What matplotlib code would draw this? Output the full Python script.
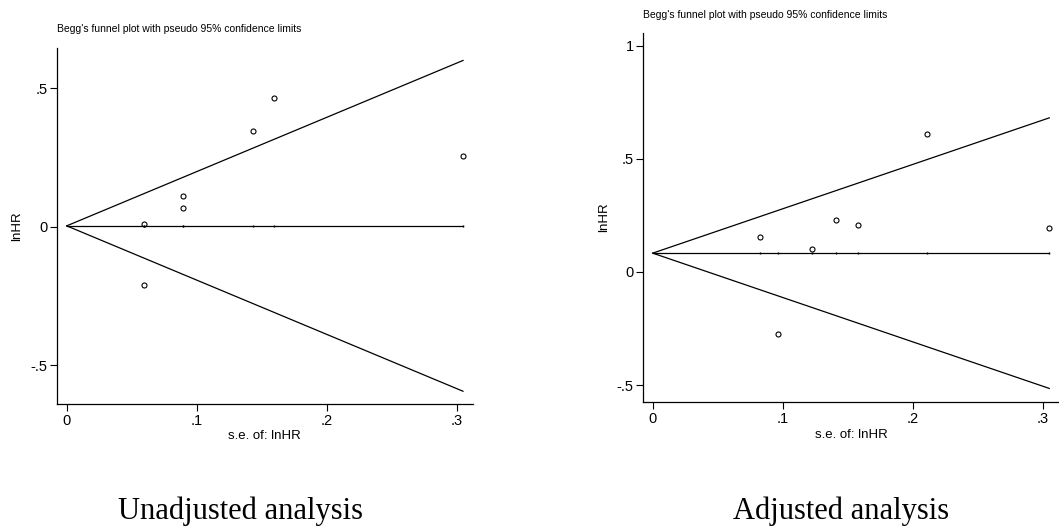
import matplotlib
matplotlib.use("Agg")
import matplotlib.pyplot as plt
import numpy as np

NARROW = ['Liberation Sans Narrow', 'Liberation Sans', 'DejaVu Sans']
SERIF = ['Liberation Serif', 'DejaVu Serif']

TITLE = "Begg's funnel plot with pseudo 95% confidence limits"
XLABEL = "s.e. of: lnHR"
YLABEL = "lnHR"

# unadjusted analysis
unadj_se = [0.0595, 0.0595, 0.0895, 0.0895, 0.1428, 0.1595, 0.3046]
unadj_lnhr = [0.010, -0.210, 0.112, 0.067, 0.345, 0.466, 0.256]
unadj_pooled = 0.003
unadj_yticks = [-0.5, 0, 0.5]
unadj_yticklabels = ['-.5', '0', '.5']

# adjusted analysis
adj_se = [0.0825, 0.0966, 0.1228, 0.1408, 0.1577, 0.2108, 0.3050]
adj_lnhr = [0.156, -0.275, 0.103, 0.231, 0.206, 0.611, 0.193]
adj_pooled = 0.083
adj_yticks = [-0.5, 0, 0.5, 1]
adj_yticklabels = ['-.5', '0', '.5', '1']

xticks = [0, 0.1, 0.2, 0.3]
xticklabels = ['0', '.1', '.2', '.3']
captions = ["Unadjusted analysis", "Adjusted analysis"]


def funnel(ax, se, lnhr, pooled, yticks, yticklabels, xlim, ylim):
    se = np.asarray(se)
    se_max = se.max()
    xs = np.array([0, se_max])
    ax.plot(xs, pooled + 1.96 * xs, color='black', lw=0.9)
    ax.plot(xs, pooled - 1.96 * xs, color='black', lw=0.9)
    ax.plot(np.r_[0, np.sort(se)], np.full(len(se) + 1, pooled), color='black', lw=0.9,
            marker='|', markersize=2, markevery=list(range(1, len(se) + 1)))
    ax.plot(se, lnhr, 'o', mfc='none', mec='black', mew=0.8, ms=3.6, clip_on=False)
    ax.set_xlim(*xlim)
    ax.set_ylim(*ylim)
    ax.set_xticks(xticks)
    ax.set_xticklabels(xticklabels, family=NARROW, fontsize=10.5)
    ax.set_yticks(yticks)
    ax.set_yticklabels(yticklabels, family=NARROW, fontsize=10.5)
    ax.tick_params(length=5, width=0.8, pad=2)
    for s in ['top', 'right']:
        ax.spines[s].set_visible(False)
    for s in ['left', 'bottom']:
        ax.spines[s].set_linewidth(0.9)
    ax.set_xlabel(XLABEL, family=NARROW, fontsize=9.5, labelpad=2)
    ax.set_ylabel(YLABEL, family=NARROW, fontsize=9.5, labelpad=5)


fig = plt.figure(figsize=(10.59, 5.31), dpi=100)

ax1 = fig.add_axes([0.0538, 0.2392, 0.3925, 0.6704])
funnel(ax1, unadj_se, unadj_lnhr, unadj_pooled, unadj_yticks, unadj_yticklabels,
       (-0.0075, 0.312), (-0.64, 0.645))
fig.text(57 / 1059, 1 - 29 / 531, TITLE, family=NARROW, fontsize=7.5, va='center', ha='left')

ax2 = fig.add_axes([0.6075, 0.2424, 0.3929, 0.696])
funnel(ax2, adj_se, adj_lnhr, adj_pooled, adj_yticks, adj_yticklabels,
       (-0.0072, 0.3128), (-0.576, 1.057))
fig.text(643 / 1059, 1 - 15 / 531, TITLE, family=NARROW, fontsize=7.5, va='center', ha='left')

fig.text(240 / 1059, 1 - 511 / 531, captions[0], family=SERIF, fontsize=22, ha='center', va='center')
fig.text(841 / 1059, 1 - 511 / 531, captions[1], family=SERIF, fontsize=22, ha='center', va='center')

fig.savefig("out.png", dpi=100)
